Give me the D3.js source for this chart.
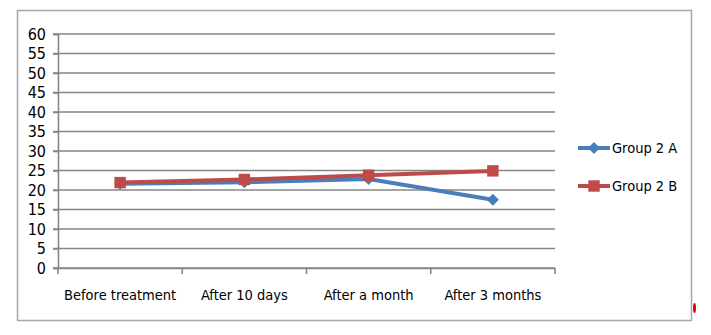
<!DOCTYPE html>
<html><head><meta charset="utf-8">
<script src="https://cdn.jsdelivr.net/npm/d3@7"></script>
<style>
html,body{margin:0;padding:0;background:#fff;}
svg{display:block;}
text{font-family:"Liberation Sans Narrow","Arial Narrow","DejaVu Sans Condensed",sans-serif;fill:#000;}
</style></head>
<body>
<svg id="c" width="711" height="335"></svg>
<script>
const categories = ["Before treatment","After 10 days","After a month","After 3 months"];
const groupA = [21.6, 22.0, 22.8, 17.5];
const groupB = [21.9, 22.7, 23.8, 24.9];
const seriesNames = ["Group 2 A","Group 2 B"];
const yTicks = [0,5,10,15,20,25,30,35,40,45,50,55,60];

const svg = d3.select("#c");
const colA = "#4a7ebb", colB = "#be4b48", grid = "#868686";

// outer frame
svg.append("rect").attr("x",17.5).attr("y",10.5).attr("width",674).attr("height",310)
  .attr("fill","none").attr("stroke","#a6a6a6").attr("stroke-width",1.5);

const x = d3.scaleBand().domain(categories).range([58,555]).paddingInner(0).paddingOuter(0);
const y = d3.scaleLinear().domain([0,60]).range([268,34]);

// gridlines
svg.append("g").selectAll("line").data(yTicks).join("line")
  .attr("x1",53).attr("x2",555).attr("y1",d=>y(d)).attr("y2",d=>y(d))
  .attr("stroke",grid).attr("stroke-width",1.6);

// y axis
const yAxis = svg.append("g").attr("transform","translate(58,0)")
  .call(d3.axisLeft(y).tickValues(yTicks).tickSize(5).tickPadding(7));
yAxis.select(".domain").attr("stroke",grid).attr("stroke-width",1.6);
yAxis.selectAll(".tick line").attr("stroke",grid).attr("stroke-width",1.6);
yAxis.selectAll("text").style("font-size","16px");

// x axis
const xAxis = svg.append("g").attr("transform","translate(0,268)")
  .call(d3.axisBottom(x).tickSize(0).tickPadding(22));
xAxis.select(".domain").attr("stroke",grid).attr("stroke-width",1.6);
xAxis.selectAll("text").style("font-size","14.5px");
// category boundary ticks
const bounds = [58].concat(categories.map(c=>x(c)+x.bandwidth()));
svg.append("g").selectAll("line").data(bounds).join("line")
  .attr("x1",d=>d).attr("x2",d=>d).attr("y1",268).attr("y2",274)
  .attr("stroke",grid).attr("stroke-width",1.6);

const cx = c => x(c) + x.bandwidth()/2;
const line = d3.line().x((d,i)=>cx(categories[i])).y(d=>y(d));

const diamond = d3.symbol().type(d3.symbolSquare).size(72);
const square = d3.symbol().type(d3.symbolSquare).size(130);

// Series A
svg.append("path").datum(groupA).attr("d",line).attr("fill","none")
  .attr("stroke",colA).attr("stroke-width",4).attr("stroke-linejoin","round");
svg.append("g").selectAll("path").data(groupA).join("path")
  .attr("d",diamond).attr("transform",(d,i)=>`translate(${cx(categories[i])},${y(d)}) rotate(45)`)
  .attr("fill",colA);

// Series B
svg.append("path").datum(groupB).attr("d",line).attr("fill","none")
  .attr("stroke",colB).attr("stroke-width",4).attr("stroke-linejoin","round");
svg.append("g").selectAll("path").data(groupB).join("path")
  .attr("d",square).attr("transform",(d,i)=>`translate(${cx(categories[i])},${y(d)})`)
  .attr("fill",colB);

// legend
const legend = svg.append("g");
const lg = [{n:seriesNames[0],c:colA,s:diamond,r:45,y:148},{n:seriesNames[1],c:colB,s:square,r:0,y:186}];
lg.forEach(d=>{
  legend.append("line").attr("x1",578).attr("x2",610).attr("y1",d.y).attr("y2",d.y)
    .attr("stroke",d.c).attr("stroke-width",4);
  legend.append("path").attr("d",d.s).attr("transform",`translate(594,${d.y}) rotate(${d.r})`).attr("fill",d.c);
  legend.append("text").attr("x",612).attr("y",d.y).attr("dy","0.35em")
    .style("font-size","14.5px").text(d.n);
});

// small red mark at bottom right
svg.append("ellipse").attr("cx",694.5).attr("cy",308).attr("rx",1.5).attr("ry",5).attr("fill","#e00000");
</script>
</body></html>
